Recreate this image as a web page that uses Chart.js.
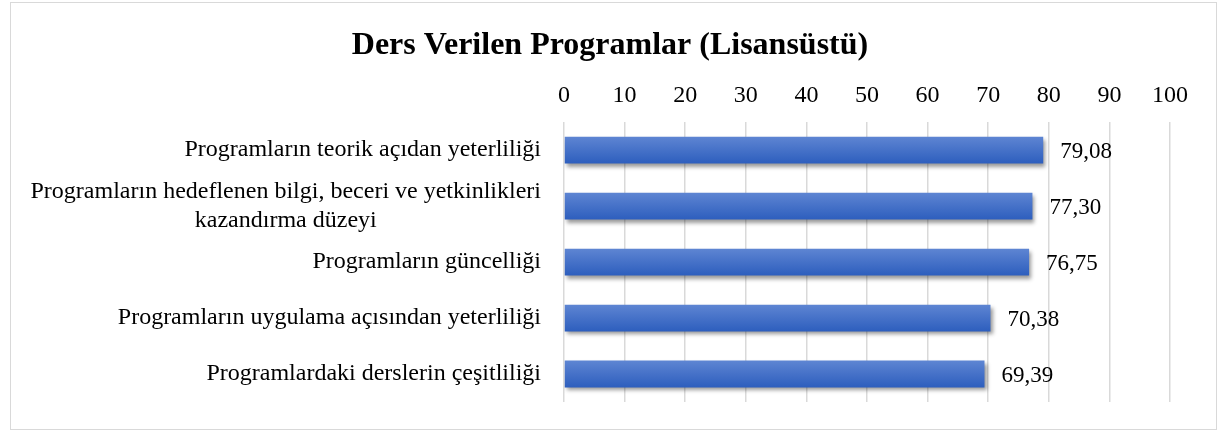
<!DOCTYPE html>
<html>
<head>
<meta charset="utf-8">
<script src="https://cdn.jsdelivr.net/npm/chart.js@4.4.1/dist/chart.umd.min.js"></script>
<style>
  html, body { margin: 0; padding: 0; background: #fff; }
  #wrap { width: 1220px; height: 432px; }
</style>
</head>
<body>
<div id="wrap"><canvas id="grafik" width="1220" height="432"></canvas></div>
<script>
// veriler
const kategoriler = [
    ['Programların teorik açıdan yeterliliği'],
    ['Programların hedeflenen bilgi, beceri ve yetkinlikleri', 'kazandırma düzeyi'],
    ['Programların güncelliği'],
    ['Programların uygulama açısından yeterliliği'],
    ['Programlardaki derslerin çeşitliliği']
];
const degerler = [79.08, 77.30, 76.75, 70.38, 69.39];
const eksenMin = 0;
const eksenMax = 100;
const eksenAdim = 10;

const yazi = "'Liberation Serif', 'Times New Roman', serif";

// cerceve + golge + etiketler
const eklenti = {
    id: 'ekstra',
    beforeDraw(chart) {
        const c = chart.ctx;
        c.save();
        c.strokeStyle = '#d9d9d9';
        c.lineWidth = 1;
        c.strokeRect(10.5, 2.5, 1206, 427);
        c.restore();
    },
    beforeDatasetsDraw(chart) {
        const c = chart.ctx;
        c.save();
        c.shadowColor = 'rgba(0,0,0,0.4)';
        c.shadowBlur = 4;
        c.shadowOffsetX = 2;
        c.shadowOffsetY = 3;
    },
    afterDatasetsDraw(chart) {
        const c = chart.ctx;
        c.restore();
        // deger etiketleri
        const meta = chart.getDatasetMeta(0);
        c.save();
        c.font = '23px ' + yazi;
        c.fillStyle = '#000';
        c.textAlign = 'left';
        c.textBaseline = 'middle';
        meta.data.forEach((bar, i) => {
            c.fillText(degerler[i].toFixed(2).replace('.', ','), bar.x + 17, bar.y + 2);
        });
        // kategori etiketleri (satirlar ortali)
        const y = chart.scales.y;
        c.font = '24px ' + yazi;
        c.textAlign = 'center';
        kategoriler.forEach((satirlar, i) => {
            const genislik = Math.max(...satirlar.map(s => c.measureText(s).width));
            const ortaX = 541 - genislik / 2;
            const yMerkez = y.getPixelForValue(i);
            const satirH = 29;
            const ilk = yMerkez - (satirlar.length - 1) * satirH / 2;
            satirlar.forEach((s, j) => c.fillText(s, ortaX, ilk + j * satirH));
        });
        c.restore();
    }
};

const ctx = document.getElementById('grafik').getContext('2d');

new Chart(ctx, {
    type: 'bar',
    data: {
        labels: kategoriler,
        datasets: [{
            data: degerler,
            backgroundColor: function(context) {
                const chart = context.chart;
                if (!chart.chartArea) return '#4472C4';
                const yy = chart.scales.y.getPixelForValue(context.dataIndex);
                const g = chart.ctx.createLinearGradient(0, yy - 14, 0, yy + 14);
                g.addColorStop(0, '#5f86d3');
                g.addColorStop(1, '#2c5dbd');
                return g;
            },
            borderWidth: 0,
            categoryPercentage: 1,
            barPercentage: 0.48
        }]
    },
    options: {
        indexAxis: 'y',
        responsive: false,
        animation: false,
        layout: { padding: { top: 27, right: 50, bottom: 30, left: 50 } },
        scales: {
            x: {
                position: 'top',
                min: eksenMin,
                max: eksenMax,
                ticks: {
                    stepSize: eksenAdim,
                    color: '#000',
                    padding: 12,
                    font: { size: 24, family: yazi }
                },
                grid: { color: '#d9d9d9', lineWidth: 1.5, drawTicks: false },
                border: { display: false }
            },
            y: {
                ticks: { display: false },
                grid: { display: false },
                border: { display: false },
                afterFit(scale) { scale.width = 514; }
            }
        },
        plugins: {
            legend: { display: false },
            tooltip: { enabled: false },
            title: {
                display: true,
                text: 'Ders Verilen Programlar (Lisansüstü)',
                color: '#000',
                font: { size: 32, weight: 'bold', family: yazi },
                padding: { top: 0, bottom: 4 }
            }
        }
    },
    plugins: [eklenti]
});
</script>
</body>
</html>
